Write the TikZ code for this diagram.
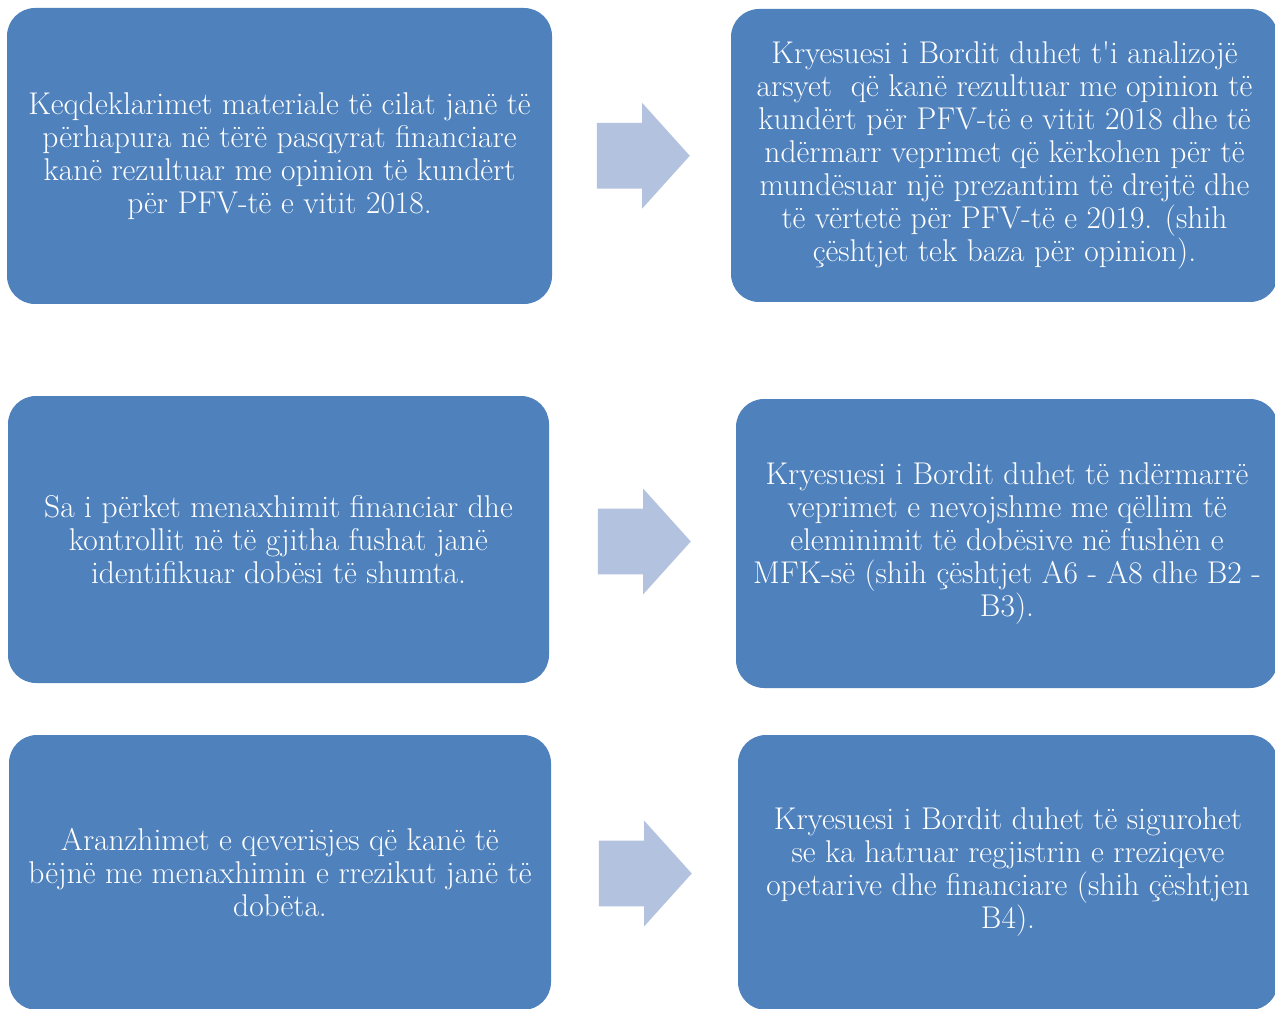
\documentclass[tikz,border=0pt]{standalone}
\usepackage{tikz}
\usetikzlibrary{shapes.arrows,calc}
\definecolor{boxblue}{RGB}{79,129,189}
\definecolor{arrowblue}{RGB}{179,194,222}

\begin{document}
\begin{tikzpicture}[x=0.75pt,y=-0.75pt]
\tikzstyle{box}=[fill=boxblue,rounded corners=21pt,text=white,align=center,inner sep=0pt,font=\fontsize{23.6}{24.75}\selectfont];
\tikzstyle{bigarrow}=[single arrow,fill=arrowblue,inner sep=0pt,text height=48.75pt,text depth=0pt,minimum height=69.75pt,single arrow head extend=15pt,single arrow tip angle=96];
\useasboundingbox (0,0) rectangle (1275,1009);
\node (1) [box,minimum width=408.75pt,minimum height=222pt] at (279.5,156) {Keqdeklarimet materiale të cilat janë të\\ përhapura në tërë pasqyrat financiare\\ kanë rezultuar me opinion të kundërt\\ për PFV-të e vitit 2018.};
\node (2) [box,minimum width=410.25pt,minimum height=219.75pt] at (1004.5,155.5) {Kryesuesi i Bordit duhet t\textquotesingle i analizojë\\ arsyet~ që kanë rezultuar me opinion të\\ kundërt për PFV-të e vitit 2018 dhe të\\ ndërmarr veprimet që kërkohen për të\\ mundësuar një prezantim të drejtë dhe\\ të vërtetë për PFV-të e 2019. (shih\\ çështjet tek baza për opinion).};
\node (3) [box,minimum width=405.75pt,minimum height=215.25pt] at (278.5,539.5) {Sa i përket menaxhimit financiar dhe\\ kontrollit në të gjitha fushat janë\\ identifikuar dobësi të shumta.};
\node (4) [box,minimum width=406.5pt,minimum height=216.75pt] at (1007,543.5) {Kryesuesi i Bordit duhet të ndërmarrë\\ veprimet e nevojshme me qëllim të\\ eleminimit të dobësive në fushën e\\ MFK-së (shih çështjet A6 - A8 dhe B2 -\\ B3).};
\node (5) [box,minimum width=406.5pt,minimum height=206.25pt] at (280,872.5) {Aranzhimet e qeverisjes që kanë të\\ bëjnë me menaxhimin e rrezikut janë të\\ dobëta.};
\node (6) [box,minimum width=405pt,minimum height=206.25pt] at (1008,872.5) {Kryesuesi i Bordit duhet të sigurohet\\ se ka hatruar regjistrin e rreziqeve\\ opetarive dhe financiare (shih çështjen\\ B4).};
\node (a1) [bigarrow] at ($(1.east)!0.5!(2.west)+(-13,0)$) {};
\node (a2) [bigarrow] at ($(3.east)!0.5!(4.west)+(-13,0)$) {};
\node (a3) [bigarrow] at ($(5.east)!0.5!(6.west)+(-14,1)$) {};
\end{tikzpicture}
\end{document}
